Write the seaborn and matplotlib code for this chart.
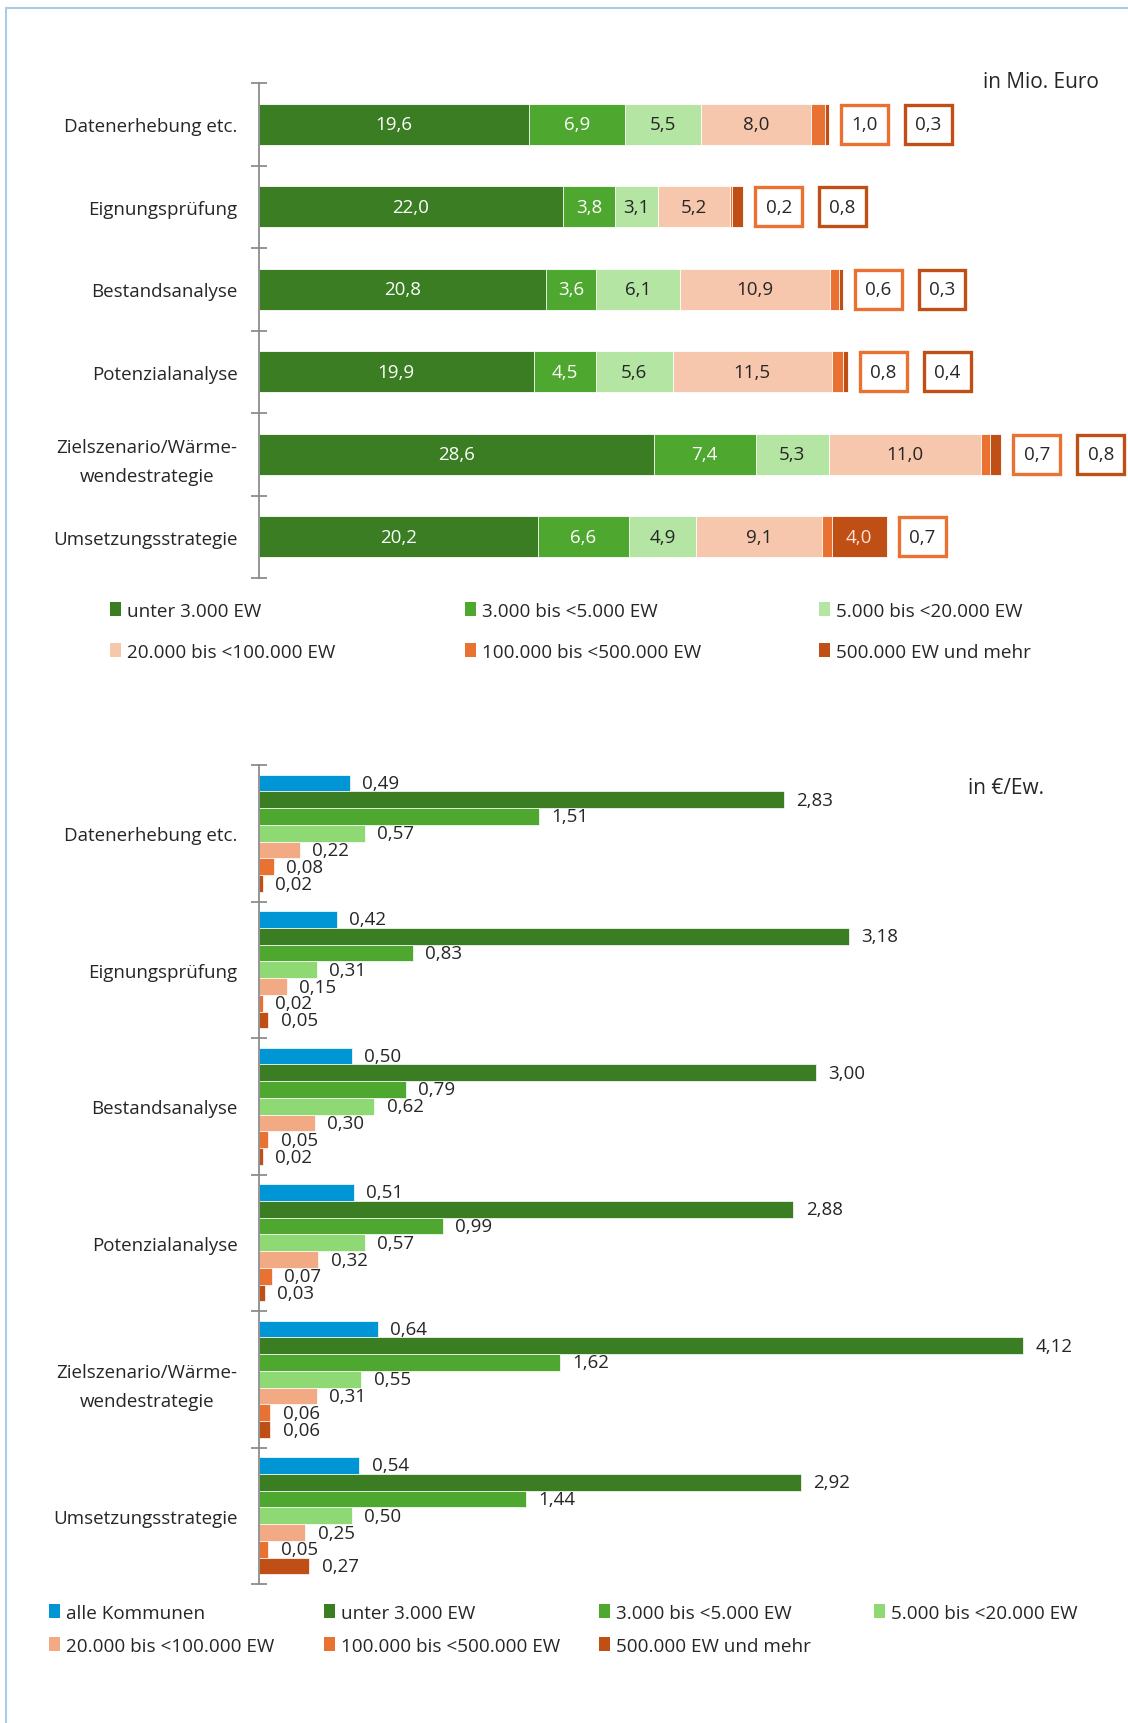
import numpy as np
import pandas as pd
import seaborn as sns
import matplotlib.pyplot as plt
from matplotlib.patches import Patch
from matplotlib.lines import Line2D

sns.set_style("white")
plt.rcParams['font.family'] = ['Open Sans', 'DejaVu Sans']

# --- data ---
categories = ["Datenerhebung etc.", "Eignungsprüfung", "Bestandsanalyse",
              "Potenzialanalyse", "Zielszenario/Wärme-\nwendestrategie",
              "Umsetzungsstrategie"]
groups = ["unter 3.000 EW", "3.000 bis <5.000 EW", "5.000 bis <20.000 EW",
          "20.000 bis <100.000 EW", "100.000 bis <500.000 EW", "500.000 EW und mehr"]

# Mio. Euro
mio_u3 = [19.6, 22.0, 20.8, 19.9, 28.6, 20.2]
mio_3_5 = [6.9, 3.8, 3.6, 4.5, 7.4, 6.6]
mio_5_20 = [5.5, 3.1, 6.1, 5.6, 5.3, 4.9]
mio_20_100 = [8.0, 5.2, 10.9, 11.5, 11.0, 9.1]
mio_100_500 = [1.0, 0.2, 0.6, 0.8, 0.7, 0.7]
mio_500 = [0.3, 0.8, 0.3, 0.4, 0.8, 4.0]

# Euro je Einwohner
ew_alle = [0.49, 0.42, 0.50, 0.51, 0.64, 0.54]
ew_u3 = [2.83, 3.18, 3.00, 2.88, 4.12, 2.92]
ew_3_5 = [1.51, 0.83, 0.79, 0.99, 1.62, 1.44]
ew_5_20 = [0.57, 0.31, 0.62, 0.57, 0.55, 0.50]
ew_20_100 = [0.22, 0.15, 0.30, 0.32, 0.31, 0.25]
ew_100_500 = [0.08, 0.02, 0.05, 0.07, 0.06, 0.05]
ew_500 = [0.02, 0.05, 0.02, 0.03, 0.06, 0.27]

top_colors = ['#3A7D22', '#4EA72E', '#B4E5A2', '#F6C6AD', '#E97132', '#C04F15']
bot_colors = ['#0096D6', '#3A7D22', '#4EA72E', '#8ED973', '#F2AA84', '#E97132', '#C04F15']
txt = '#262626'
grey = '#8C8C8C'
FS = 13.5
W, H = 1128, 1724

fig = plt.figure(figsize=(W / 100, H / 100), dpi=100)


def style_axis(ax):
    sns.despine(ax=ax, top=True, right=True, bottom=True)
    ax.spines['left'].set_color(grey)
    ax.spines['left'].set_linewidth(1.3)
    ax.set_xticks([])
    ax.set_xlabel('')
    ax.set_ylabel('')
    ax.set_ylim(5.5, -0.5)
    ax.set_yticks(range(6))
    ax.set_yticklabels(categories)
    ax.set_yticks(np.arange(-0.5, 6), minor=True)
    ax.tick_params(axis='y', which='major', left=True, length=0, pad=15.5,
                   labelsize=FS, labelcolor=txt)
    ax.tick_params(axis='y', which='minor', left=True, length=11, width=1.3,
                   direction='inout', color=grey)
    for lab in ax.get_yticklabels():
        lab.set_multialignment('center')
        lab.set_linespacing(1.8)


def fmt(v, d):
    return f"{v:.{d}f}".replace('.', ',')


# --- top: stacked bars, Mio. Euro ---
ax1 = fig.add_axes([259 / W, 1 - 579 / H, 841 / W, 495 / H])
segs = np.array([mio_u3, mio_3_5, mio_5_20, mio_20_100, mio_100_500, mio_500])
cum = segs.cumsum(axis=0)
for k in range(len(groups) - 1, -1, -1):
    sns.barplot(x=cum[k], y=categories, color=top_colors[k], saturation=1,
                width=0.5, edgecolor='white', linewidth=0.6, ax=ax1)
ax1.set_xlim(0, 841 / 13.8)
style_axis(ax1)

for i in range(len(categories)):
    left = 0
    boxes = []
    for k in range(len(groups)):
        v = segs[k, i]
        if k < 4 or v >= 2:
            col = 'white' if k < 2 else ('#FBE3D6' if k == 5 else txt)
            ax1.text(left + v / 2, i, fmt(v, 1), ha='center', va='center',
                     color=col, fontsize=FS)
        else:
            boxes.append((v, top_colors[k]))
        left += v
    for j, (v, c) in enumerate(boxes):
        ax1.annotate(fmt(v, 1), (left, i), xytext=(25.5 + 46 * j, 0),
                     textcoords='offset points', ha='center', va='center',
                     fontsize=FS, color=txt,
                     bbox=dict(boxstyle='square,pad=0.55', fc='white', ec=c, lw=2.4))

fig.text(1099 / W, 1 - 82 / H, "in Mio. Euro", ha='right', va='center', fontsize=15, color=txt)

# --- bottom: grouped bars, Euro je Einwohner ---
ax2 = fig.add_axes([259 / W, 1 - 1585 / H, 841 / W, 819 / H])
bot_groups = ["alle Kommunen"] + groups
bot_vals = [ew_alle, ew_u3, ew_3_5, ew_5_20, ew_20_100, ew_100_500, ew_500]
df = pd.DataFrame({
    'Kategorie': np.tile(categories, len(bot_groups)),
    'Gruppe': np.repeat(bot_groups, len(categories)),
    'Wert': np.concatenate(bot_vals),
})
sns.barplot(data=df, y='Kategorie', x='Wert', hue='Gruppe', hue_order=bot_groups,
            palette=bot_colors, saturation=1, width=0.86, edgecolor='white',
            linewidth=0.5, legend=False, ax=ax2)
ax2.set_xlim(0, 841 / 185.5)
style_axis(ax2)
for cont, vals in zip(ax2.containers, bot_vals):
    ax2.bar_label(cont, labels=[fmt(v, 2) for v in vals], padding=9,
                  fontsize=FS, color=txt)

fig.text(1044 / W, 1 - 789 / H, "in €/Ew.", ha='right', va='center', fontsize=15, color=txt)


# --- legends, one entry each so the columns sit where they should ---
def legend_item(label, color, x, y):
    h = Patch(facecolor=color, edgecolor='none')
    fig.legend([h], [label], loc='center left', bbox_to_anchor=(x / W, 1 - y / H),
               frameon=False, fontsize=13.6, handlelength=0.6, handleheight=0.75,
               handletextpad=0.3, borderpad=0, borderaxespad=0, labelcolor=txt)


top_pos = [(110, 612), (465, 612), (819, 612), (110, 653), (465, 653), (819, 653)]
for g, c, (x, y) in zip(groups, top_colors, top_pos):
    legend_item(g, c, x, y)

bot_pos = [(49, 1614), (324, 1614), (599, 1614), (874, 1614),
           (49, 1647), (324, 1647), (599, 1647)]
for g, c, (x, y) in zip(bot_groups, bot_colors, bot_pos):
    legend_item(g, c, x, y)

# thin frame line at the top and left edge
fig.add_artist(Line2D([6 / W, 6 / W], [0, 1 - 9 / H], color='#A9CBEA', lw=1.5))
fig.add_artist(Line2D([6 / W, 1], [1 - 9 / H, 1 - 9 / H], color='#A9CBEA', lw=1.5))

fig.savefig("out.png", dpi=100)
